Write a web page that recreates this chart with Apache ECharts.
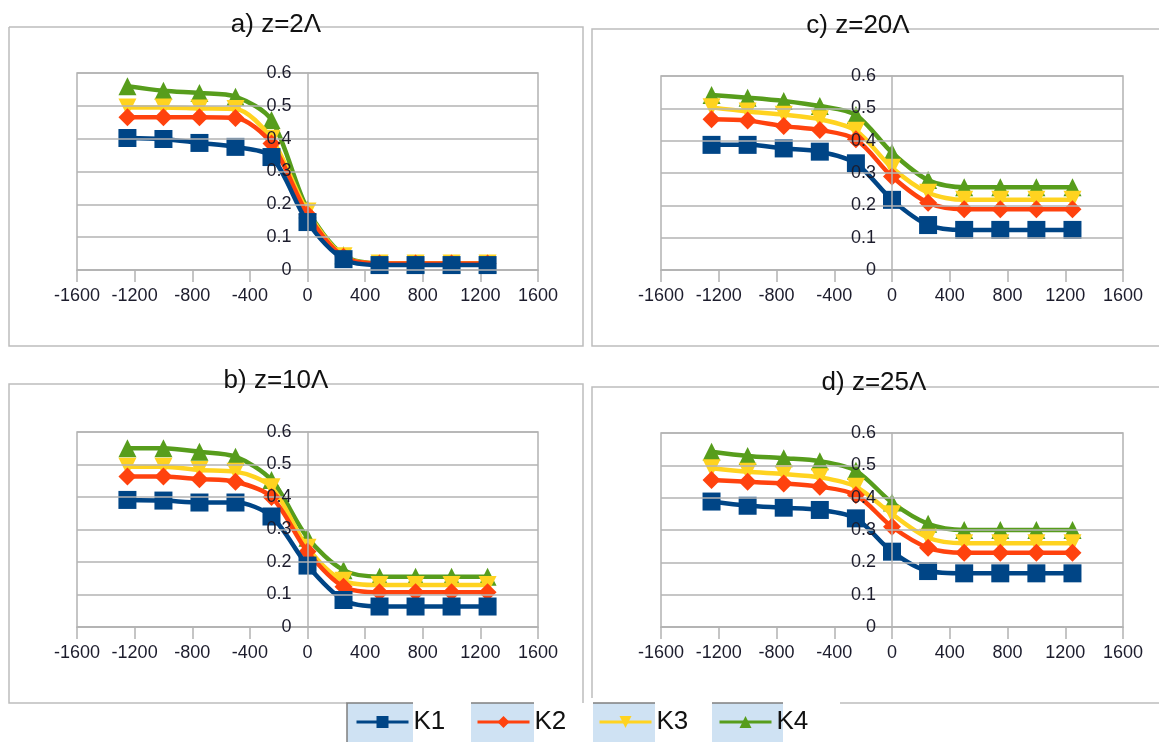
<!DOCTYPE html>
<html>
<head>
<meta charset="utf-8">
<script src="https://cdn.jsdelivr.net/npm/echarts@6/dist/echarts.min.js"></script>
<style>
html,body{margin:0;padding:0;background:#fff;}
#chart{width:1159px;height:742px;}
</style>
</head>
<body>
<div id="chart"></div>
<script>
// ---- data ----
const xValues = [-1250, -1000, -750, -500, -250, 0, 250, 500, 750, 1000, 1250];
const seriesNames = ['K1', 'K2', 'K3', 'K4'];
const panelTitles = ['a) z=2Λ', 'b) z=10Λ', 'c) z=20Λ', 'd) z=25Λ'];
const xTicks = [-1600, -1200, -800, -400, 0, 400, 800, 1200, 1600];
const yTicks = [0, 0.1, 0.2, 0.3, 0.4, 0.5, 0.6];

// panel a) z=2Λ
const a_K1 = [0.402, 0.399, 0.387, 0.375, 0.344, 0.146, 0.033, 0.015, 0.015, 0.015, 0.015];
const a_K2 = [0.465, 0.465, 0.465, 0.463, 0.385, 0.170, 0.040, 0.020, 0.020, 0.020, 0.020];
const a_K3 = [0.495, 0.495, 0.492, 0.490, 0.400, 0.178, 0.042, 0.020, 0.020, 0.020, 0.020];
const a_K4 = [0.560, 0.546, 0.539, 0.528, 0.457, 0.185, 0.045, 0.020, 0.020, 0.020, 0.020];
// panel b) z=10Λ
const b_K1 = [0.391, 0.389, 0.383, 0.383, 0.340, 0.189, 0.083, 0.063, 0.063, 0.063, 0.063];
const b_K2 = [0.463, 0.463, 0.455, 0.447, 0.400, 0.232, 0.124, 0.107, 0.107, 0.107, 0.107];
const b_K3 = [0.493, 0.493, 0.483, 0.478, 0.430, 0.244, 0.142, 0.129, 0.129, 0.129, 0.129];
const b_K4 = [0.550, 0.550, 0.539, 0.524, 0.452, 0.275, 0.175, 0.155, 0.155, 0.155, 0.155];
// panel c) z=20Λ
const c_K1 = [0.387, 0.387, 0.376, 0.366, 0.330, 0.217, 0.139, 0.124, 0.124, 0.124, 0.124];
const c_K2 = [0.466, 0.462, 0.445, 0.433, 0.404, 0.289, 0.208, 0.188, 0.188, 0.188, 0.188];
const c_K3 = [0.503, 0.490, 0.480, 0.466, 0.431, 0.316, 0.239, 0.217, 0.217, 0.217, 0.217];
const c_K4 = [0.541, 0.533, 0.523, 0.507, 0.479, 0.363, 0.278, 0.256, 0.256, 0.256, 0.256];
// panel d) z=25Λ
const d_K1 = [0.388, 0.375, 0.369, 0.362, 0.336, 0.233, 0.173, 0.166, 0.166, 0.166, 0.166];
const d_K2 = [0.455, 0.449, 0.444, 0.434, 0.408, 0.310, 0.245, 0.230, 0.230, 0.230, 0.230];
const d_K3 = [0.491, 0.480, 0.473, 0.463, 0.434, 0.349, 0.276, 0.259, 0.259, 0.259, 0.259];
const d_K4 = [0.542, 0.529, 0.522, 0.513, 0.483, 0.385, 0.319, 0.300, 0.300, 0.300, 0.300];

const panelData = [
  [a_K1, a_K2, a_K3, a_K4],
  [b_K1, b_K2, b_K3, b_K4],
  [c_K1, c_K2, c_K3, c_K4],
  [d_K1, d_K2, d_K3, d_K4]
];

// ---- styling / layout ----
const colors = ['#004586', '#ff420e', '#ffd320', '#579d1c'];
const symbols = ['rect', 'diamond', 'triangle', 'triangle'];
const symbolRot = [0, 0, 180, 0];
const symbolSizes = [18, 18, 18, 18];
const FONT = '"Liberation Sans", Arial, sans-serif';
const gridColor = '#b3b3b3';
const frameColor = '#bdbdbd';
const labelColor = '#1c1c2c';

// panel order: a, b, c, d
const grids = [
  {left: 77, top: 73, width: 461, height: 197},
  {left: 77, top: 432, width: 461, height: 195},
  {left: 661, top: 76, width: 462, height: 194},
  {left: 661, top: 433, width: 462, height: 194}
];
const titlePos = [
  {cx: 276, top: 12},
  {cx: 276, top: 368},
  {cx: 858, top: 13},
  {cx: 874, top: 370}
];

const option = {
  animation: false,
  backgroundColor: '#ffffff',
  textStyle: {fontFamily: FONT},
  title: panelTitles.map((t, i) => ({
    text: t,
    left: titlePos[i].cx,
    top: titlePos[i].top,
    textAlign: 'center',
    padding: 0,
    textStyle: {fontSize: 26, fontWeight: 'normal', color: '#111', fontFamily: FONT}
  })),
  grid: grids.map(g => Object.assign({
    show: true, borderColor: gridColor, borderWidth: 1.5, backgroundColor: 'transparent', containLabel: false
  }, g)),
  xAxis: grids.map((g, i) => ({
    type: 'value', gridIndex: i,
    min: xTicks[0], max: xTicks[xTicks.length - 1], interval: 400,
    axisLine: {show: true, onZero: false, lineStyle: {color: gridColor, width: 1.5}},
    axisTick: {show: true, length: 12, lineStyle: {color: gridColor, width: 1.5}},
    axisLabel: {show: true, fontSize: 18, color: labelColor, margin: 17, fontFamily: FONT,
      formatter: v => String(v)},
    splitLine: {show: false}
  })),
  yAxis: grids.map((g, i) => ({
    type: 'value', gridIndex: i,
    min: yTicks[0], max: yTicks[yTicks.length - 1], interval: 0.1,
    position: 'left',
    // place the axis where x = 0 (centre of the -1600..1600 range)
    offset: -g.width / 2,
    z: 10,
    axisLine: {show: true, onZero: false, lineStyle: {color: gridColor, width: 1.5}},
    axisTick: {show: false},
    axisLabel: {show: true, fontSize: 18, color: labelColor, margin: 16, fontFamily: FONT,
      formatter: v => String(v)},
    splitLine: {show: true, lineStyle: {color: gridColor, width: 1.5}}
  })),
  legend: seriesNames.map((n, k) => ({
    data: [n],
    left: [355, 476, 598, 718][k],
    top: 709,
    padding: 0,
    itemWidth: 52,
    itemHeight: 15,
    itemGap: 0,
    itemTextGap: 5,
    lineStyle: {width: 3},
    textStyle: {fontSize: 26, color: '#111', fontFamily: FONT},
    selectedMode: false
  })),
  graphic: [
    // panel frames
    {type: 'polyline', z: -1, shape: {points: [[9, 27], [583, 27], [583, 346], [9, 346], [9, 27]]}, style: {stroke: frameColor, lineWidth: 1.5, fill: null}},
    {type: 'polyline', z: -1, shape: {points: [[1159, 29], [592, 29], [592, 346], [1159, 346]]}, style: {stroke: frameColor, lineWidth: 1.5, fill: null}},
    {type: 'polyline', z: -1, shape: {points: [[347, 703], [9, 703], [9, 384], [583, 384], [583, 703]]}, style: {stroke: frameColor, lineWidth: 1.5, fill: null}},
    {type: 'polyline', z: -1, shape: {points: [[1159, 387], [592, 387], [592, 698]]}, style: {stroke: frameColor, lineWidth: 1.5, fill: null}},
    {type: 'line', z: -1, shape: {x1: 840, y1: 703, x2: 1159, y2: 703}, style: {stroke: frameColor, lineWidth: 1.5}},
    // legend boxes
    {type: 'rect', z: -1, shape: {x: 347, y: 703, width: 66, height: 40}, style: {fill: '#cfe2f3', stroke: null}},
    {type: 'rect', z: -1, shape: {x: 471, y: 703, width: 63, height: 40}, style: {fill: '#cfe2f3', stroke: null}},
    {type: 'rect', z: -1, shape: {x: 593, y: 703, width: 62, height: 40}, style: {fill: '#cfe2f3', stroke: null}},
    {type: 'rect', z: -1, shape: {x: 712, y: 703, width: 71, height: 40}, style: {fill: '#cfe2f3', stroke: null}},
    {type: 'polyline', z: 0, shape: {points: [[347, 742], [347, 703], [413, 703]]}, style: {stroke: '#7f7f7f', lineWidth: 1.5, fill: null}},
    {type: 'line', z: 0, shape: {x1: 471, y1: 703, x2: 534, y2: 703}, style: {stroke: '#7f7f7f', lineWidth: 1.5}},
    {type: 'line', z: 0, shape: {x1: 593, y1: 703, x2: 655, y2: 703}, style: {stroke: '#7f7f7f', lineWidth: 1.5}},
    {type: 'line', z: 0, shape: {x1: 712, y1: 703, x2: 783, y2: 703}, style: {stroke: '#7f7f7f', lineWidth: 1.5}}
  ],
  series: []
};

panelData.forEach((sets, p) => {
  sets.forEach((vals, k) => {
    option.series.push({
      name: seriesNames[k],
      type: 'line',
      xAxisIndex: p,
      yAxisIndex: p,
      data: xValues.map((x, j) => [x, vals[j]]),
      smooth: 0.3,
      symbol: symbols[k],
      symbolRotate: symbolRot[k],
      symbolSize: symbolSizes[k],
      showAllSymbol: true,
      z: 6 - k,
      lineStyle: {color: colors[k], width: 4.5},
      itemStyle: {color: colors[k], borderWidth: 0},
      emphasis: {disabled: true}
    });
  });
});

const chart = echarts.init(document.getElementById('chart'), null, {renderer: 'canvas'});
chart.setOption(option);
</script>
</body>
</html>
